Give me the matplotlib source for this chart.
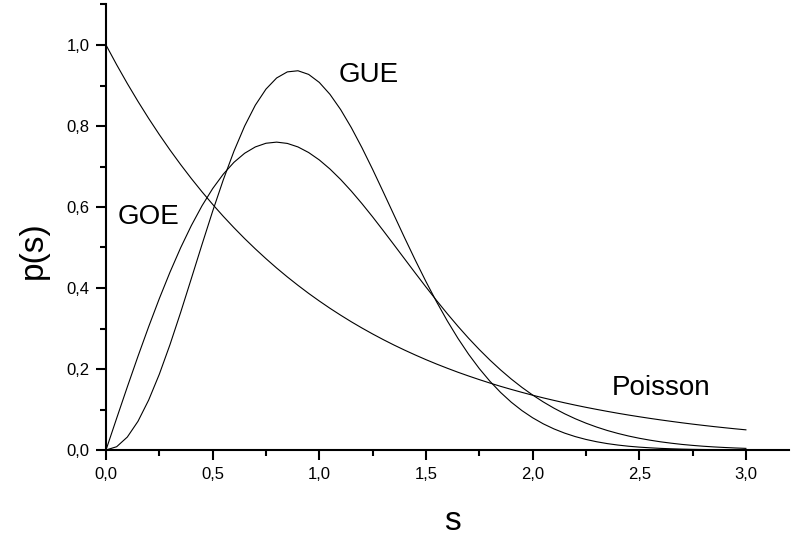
import matplotlib
matplotlib.use("Agg")
import matplotlib.pyplot as plt
from matplotlib.ticker import MultipleLocator, FuncFormatter

plt.rcParams['font.family'] = ['Liberation Sans', 'DejaVu Sans']

s = [0.00, 0.05, 0.10, 0.15, 0.20, 0.25, 0.30, 0.35, 0.40, 0.45,
     0.50, 0.55, 0.60, 0.65, 0.70, 0.75, 0.80, 0.85, 0.90, 0.95,
     1.00, 1.05, 1.10, 1.15, 1.20, 1.25, 1.30, 1.35, 1.40, 1.45,
     1.50, 1.55, 1.60, 1.65, 1.70, 1.75, 1.80, 1.85, 1.90, 1.95,
     2.00, 2.05, 2.10, 2.15, 2.20, 2.25, 2.30, 2.35, 2.40, 2.45,
     2.50, 2.55, 2.60, 2.65, 2.70, 2.75, 2.80, 2.85, 2.90, 2.95,
     3.00]

poisson = [1.0000, 0.9512, 0.9048, 0.8607, 0.8187, 0.7788, 0.7408, 0.7047, 0.6703, 0.6376,
           0.6065, 0.5769, 0.5488, 0.5220, 0.4966, 0.4724, 0.4493, 0.4274, 0.4066, 0.3867,
           0.3679, 0.3499, 0.3329, 0.3166, 0.3012, 0.2865, 0.2725, 0.2592, 0.2466, 0.2346,
           0.2231, 0.2122, 0.2019, 0.1920, 0.1827, 0.1738, 0.1653, 0.1572, 0.1496, 0.1423,
           0.1353, 0.1287, 0.1225, 0.1165, 0.1108, 0.1054, 0.1003, 0.0954, 0.0907, 0.0863,
           0.0821, 0.0781, 0.0743, 0.0707, 0.0672, 0.0639, 0.0608, 0.0578, 0.0550, 0.0523,
           0.0498]

goe = [0.0000, 0.0784, 0.1559, 0.2315, 0.3044, 0.3739, 0.4391, 0.4994, 0.5541, 0.6029,
       0.6454, 0.6812, 0.7104, 0.7327, 0.7483, 0.7574, 0.7602, 0.7570, 0.7483, 0.7345,
       0.7162, 0.6938, 0.6680, 0.6393, 0.6083, 0.5756, 0.5415, 0.5068, 0.4718, 0.4369,
       0.4025, 0.3690, 0.3366, 0.3055, 0.2759, 0.2481, 0.2220, 0.1977, 0.1752, 0.1546,
       0.1358, 0.1187, 0.1033, 0.0895, 0.0772, 0.0663, 0.0567, 0.0482, 0.0409, 0.0345,
       0.0290, 0.0243, 0.0202, 0.0168, 0.0138, 0.0114, 0.0093, 0.0076, 0.0062, 0.0050,
       0.0040]

gue = [0.0000, 0.0081, 0.0320, 0.0709, 0.1233, 0.1871, 0.2602, 0.3398, 0.4232, 0.5073,
       0.5896, 0.6673, 0.7380, 0.7999, 0.8514, 0.8911, 0.9186, 0.9336, 0.9364, 0.9274,
       0.9076, 0.8782, 0.8406, 0.7961, 0.7464, 0.6929, 0.6370, 0.5804, 0.5239, 0.4688,
       0.4159, 0.3657, 0.3189, 0.2757, 0.2364, 0.2011, 0.1697, 0.1421, 0.1180, 0.0973,
       0.0796, 0.0646, 0.0521, 0.0417, 0.0331, 0.0261, 0.0204, 0.0158, 0.0122, 0.0093,
       0.0071, 0.0054, 0.0040, 0.0030, 0.0022, 0.0016, 0.0012, 0.0009, 0.0006, 0.0004,
       0.0003]

labels = ["GUE", "GOE", "Poisson"]
label_pos = [(1.232, 0.926), (0.20, 0.575), (2.604, 0.152)]

fig = plt.figure(figsize=(7.92, 5.40), dpi=100)
ax = fig.add_axes([106 / 792, 90 / 540, 3.2 * 213.3 / 792, 445.5 / 540])

for y in (poisson, goe, gue):
    ax.plot(s, y, color='black', linewidth=0.8)

for txt, (xx, yy) in zip(labels, label_pos):
    ax.text(xx, yy, txt, fontsize=20, ha='center', va='center')

ax.set_xlim(0, 3.2)
ax.set_ylim(0, 1.1)

for side in ('top', 'right'):
    ax.spines[side].set_visible(False)
for side in ('left', 'bottom'):
    ax.spines[side].set_linewidth(1.5)

ax.xaxis.set_major_locator(MultipleLocator(0.5))
ax.xaxis.set_minor_locator(MultipleLocator(0.25))
ax.yaxis.set_major_locator(MultipleLocator(0.2))
ax.yaxis.set_minor_locator(MultipleLocator(0.1))

fmt = FuncFormatter(lambda v, p: f"{v:.1f}".replace('.', ','))
ax.xaxis.set_major_formatter(fmt)
ax.yaxis.set_major_formatter(fmt)

ax.tick_params(which='major', direction='out', length=7, width=1.5, labelsize=12, pad=5)
ax.tick_params(which='minor', direction='out', length=4, width=1.5)

fig.text(452 / 792, (540 - 530) / 540, "s", fontsize=24, ha='center', va='baseline')
fig.text(33 / 792, (540 - 250) / 540, "p(s)", fontsize=24, ha='center', va='center', rotation=90)

fig.savefig("out.png", dpi=100)
